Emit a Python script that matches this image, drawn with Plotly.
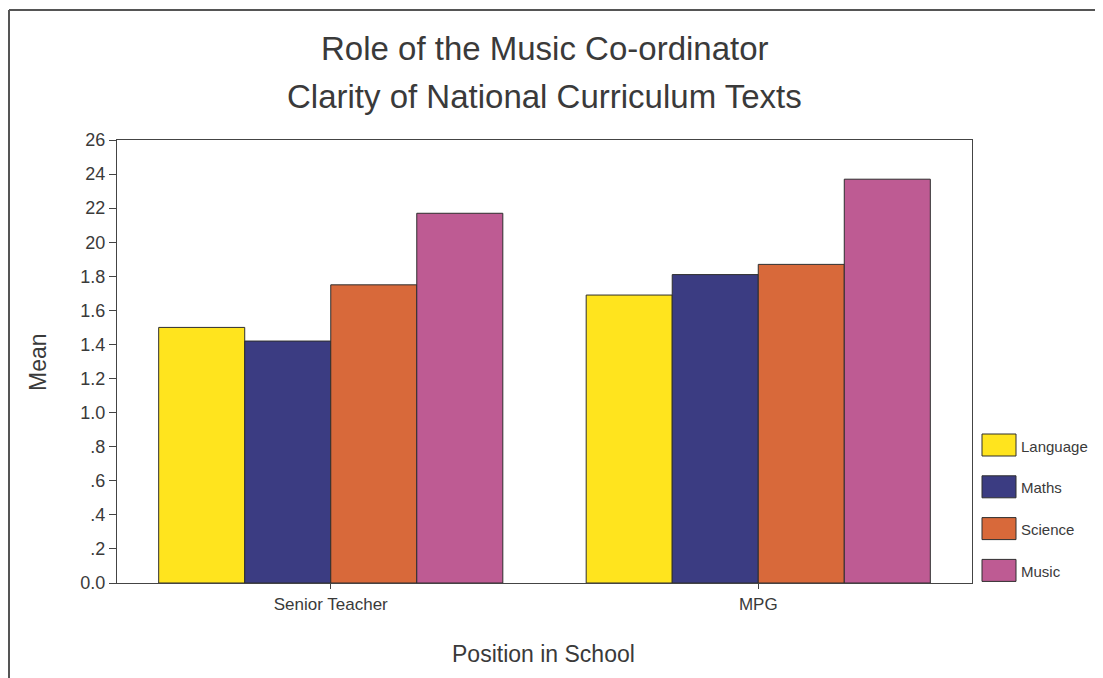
import plotly.graph_objects as go

# ---- data ----
positions = ["Senior Teacher", "MPG"]
series_names = ["Language", "Maths", "Science", "Music"]
language = [1.50, 1.69]
maths = [1.42, 1.81]
science = [1.75, 1.87]
music = [2.17, 2.37]
series_values = [language, maths, science, music]
series_colors = ["#FFE41E", "#3B3C82", "#D8693A", "#BE5B93"]

y_tick_vals = [0.0, 0.2, 0.4, 0.6, 0.8, 1.0, 1.2, 1.4, 1.6, 1.8, 2.0, 2.2, 2.4, 2.6]
y_tick_text = ["0.0", ".2", ".4", ".6", ".8", "1.0", "1.2", "1.4", "1.6", "1.8",
               "20", "22", "24", "26"]

title_line1 = "Role of the Music Co-ordinator"
title_line2 = "Clarity of National Curriculum Texts"
x_title = "Position in School"
y_title = "Mean"

# ---- layout geometry (page pixels; page body has an 8px margin) ----
OFF = 8
PAGE_W, PAGE_H = 1103, 678
W, H = PAGE_W - OFF, PAGE_H - OFF
L, R, T, B = 117 - OFF, 972 - OFF, 140 - OFF, 583 - OFF
pw, ph = R - L, B - T

def px(x):
    return (x - OFF - L) / pw

def py(y):
    return (B - (y - OFF)) / ph

FONT = "Liberation Sans, Arial, sans-serif"
TXT = "#3a3a3a"

fig = go.Figure()
for name, vals, col in zip(series_names, series_values, series_colors):
    fig.add_trace(go.Bar(
        x=positions, y=vals, name=name,
        marker=dict(color=col, line=dict(color="#2e2e2e", width=1)),
        showlegend=False,
    ))

annotations = [
    dict(text=title_line1, x=0.5, y=py(49), xref="paper", yref="paper",
         showarrow=False, xanchor="center", yanchor="middle",
         font=dict(family=FONT, size=33, color=TXT)),
    dict(text=title_line2, x=0.5, y=py(97), xref="paper", yref="paper",
         showarrow=False, xanchor="center", yanchor="middle",
         font=dict(family=FONT, size=33, color=TXT)),
    dict(text=x_title, x=px(543), y=py(654), xref="paper", yref="paper",
         showarrow=False, xanchor="center", yanchor="middle",
         font=dict(family=FONT, size=23, color=TXT)),
    dict(text=y_title, x=px(38), y=py(362), xref="paper", yref="paper",
         showarrow=False, xanchor="center", yanchor="middle", textangle=-90,
         font=dict(family=FONT, size=23, color=TXT)),
]

shapes = [
    # outer frame (left and top)
    dict(type="line", xref="paper", yref="paper",
         x0=px(9), y0=py(PAGE_H + 5), x1=px(9), y1=py(10),
         line=dict(color="#555555", width=2)),
    dict(type="line", xref="paper", yref="paper",
         x0=px(9), y0=py(10), x1=px(PAGE_W + 5), y1=py(10),
         line=dict(color="#555555", width=2)),
]

# custom legend with large swatches
for i, (name, col) in enumerate(zip(series_names, series_colors)):
    cy = 445 + 41.8 * i
    shapes.append(dict(type="rect", xref="paper", yref="paper",
                       x0=px(982), x1=px(1016), y0=py(cy + 11), y1=py(cy - 11),
                       fillcolor=col, line=dict(color="#2e2e2e", width=1)))
    annotations.append(dict(text=name, x=px(1019), y=py(cy + 1), xref="paper",
                            yref="paper", showarrow=False, xanchor="left",
                            yanchor="middle",
                            font=dict(family=FONT, size=15, color=TXT)))

fig.update_layout(
    width=W, height=H,
    margin=dict(l=L, r=W - R, t=T, b=H - B, pad=0),
    paper_bgcolor="white", plot_bgcolor="white",
    barmode="group", bargap=0.195, bargroupgap=0,
    showlegend=False,
    annotations=annotations, shapes=shapes,
    font=dict(family=FONT, color=TXT),
)
fig.update_xaxes(
    type="category", showgrid=False, showline=True, mirror=True,
    linecolor="#444444", linewidth=1.2, ticks="outside", ticklen=5,
    tickcolor="#444444", tickfont=dict(family=FONT, size=17, color=TXT),
    automargin=False,
)
fig.update_yaxes(
    range=[0, 2.6], tickvals=y_tick_vals, ticktext=y_tick_text,
    showgrid=False, zeroline=False, showline=True, mirror=True,
    linecolor="#444444", linewidth=1.2, ticks="outside", ticklen=7,
    tickcolor="#444444", tickfont=dict(family=FONT, size=18, color=TXT),
    automargin=False,
)

fig.write_html("out.html")
